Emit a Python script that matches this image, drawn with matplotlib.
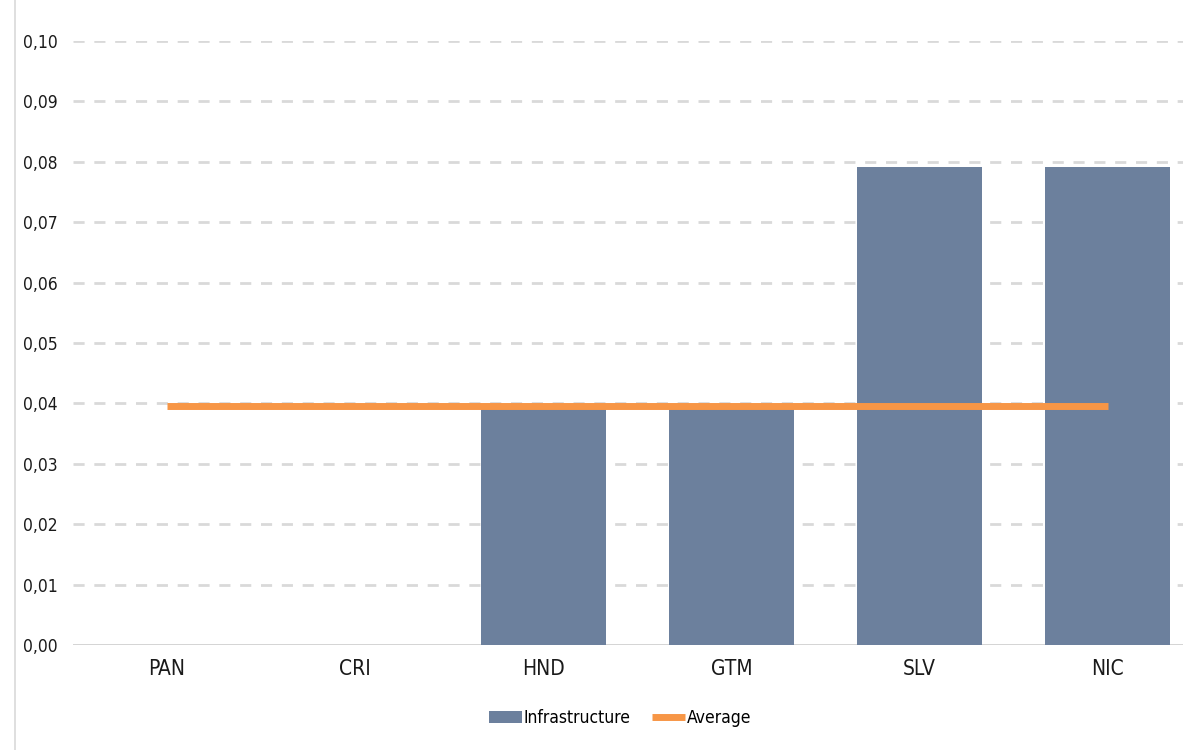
import matplotlib
matplotlib.use("Agg")
import matplotlib.pyplot as plt
from matplotlib.lines import Line2D

countries = ["PAN", "CRI", "HND", "GTM", "SLV", "NIC"]
infrastructure = [0.0, 0.0, 0.0396, 0.0396, 0.0792, 0.0792]
average = sum(infrastructure) / len(infrastructure)
yticks = [0.00, 0.01, 0.02, 0.03, 0.04, 0.05, 0.06, 0.07, 0.08, 0.09, 0.10]

BAR = "#6c809d"
ORANGE = "#f79646"
GRID = "#d9d9d9"

plt.rcParams["font.family"] = "DejaVu Sans"
plt.rcParams["font.stretch"] = "condensed"

fig = plt.figure(figsize=(11.83, 7.5), dpi=100)
ax = fig.add_axes([73 / 1183, 1 - 645 / 750, (1202 - 73) / 1183, (645 - 41) / 750])

x = list(range(len(countries)))
bars = ax.bar(x, infrastructure, width=0.665, color=BAR, label="Infrastructure", zorder=2)
avg_line, = ax.plot([x[0], x[-1]], [average, average], color=ORANGE, lw=5, label="Average",
                    solid_capstyle="butt", zorder=3)

ax.set_xlim(-0.5, 5.5)
ax.set_ylim(0, 0.10)
ax.set_yticks(yticks)
ax.set_yticklabels([("%.2f" % v).replace(".", ",") for v in yticks])
ax.set_xticks(x)
ax.set_xticklabels(countries)

for v in yticks[1:]:
    ax.axhline(v, color=GRID, lw=2, ls=(0, (4, 3.5)), zorder=1)
ax.axhline(0, color="#d0d0d0", lw=2, zorder=1)

for s in ax.spines.values():
    s.set_visible(False)
ax.tick_params(axis="both", length=0)
ax.tick_params(axis="y", labelsize=12.5, pad=11, labelcolor="#1a1a1a")
ax.tick_params(axis="x", labelsize=15, pad=10, labelcolor="#1a1a1a")

# thin frame line on the left edge
fig.add_artist(Line2D([15 / 1183, 15 / 1183], [0, 1], color="#d9d9d9", lw=1.2))

fig.legend([bars, avg_line], ["Infrastructure", "Average"], loc="center",
           bbox_to_anchor=(620 / 1183, 1 - 718 / 750), ncol=2,
           frameon=False, fontsize=12.5, handlelength=1.9, handletextpad=0.1,
           columnspacing=1.2)

fig.savefig("out.png", dpi=100)
